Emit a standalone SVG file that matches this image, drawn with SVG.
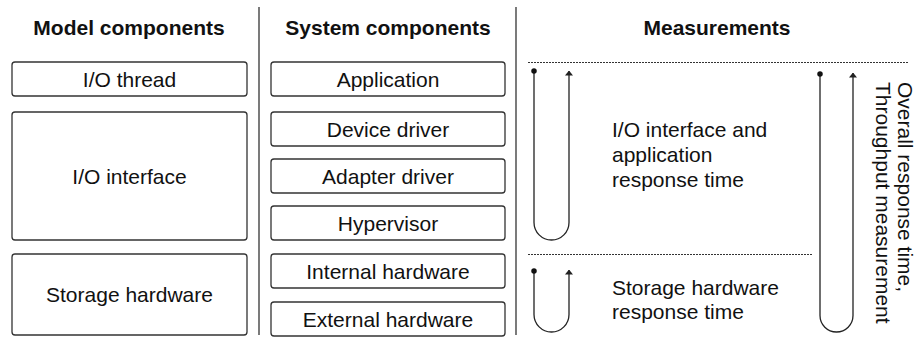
<svg xmlns="http://www.w3.org/2000/svg" width="921" height="340" viewBox="0 0 921 340">
  <style>
    .hdr { font-family: "Liberation Sans", Arial, sans-serif; font-weight: bold; font-size: 21px; fill: #111; text-anchor: middle; }
    .lbl { font-family: "Liberation Sans", Arial, sans-serif; font-size: 21px; fill: #111; text-anchor: middle; }
    .txt { font-family: "Liberation Sans", Arial, sans-serif; font-size: 21px; fill: #111; }
    .box { fill: #fff; stroke: #333; stroke-width: 1.3; }
    .sep { stroke: #333; stroke-width: 1.3; }
    .dot { stroke: #333; stroke-width: 1; stroke-dasharray: 2 1; fill: none; }
    .loop { fill: none; stroke: #222; stroke-width: 1.3; marker-start: url(#start-dot); marker-end: url(#arrow); }
  </style>
  <defs>
    <marker id="arrow" viewBox="0 0 10 10" refX="9" refY="5" markerWidth="5" markerHeight="8" markerUnits="userSpaceOnUse" orient="auto" preserveAspectRatio="none">
      <path d="M0,0 L10,5 L0,10 z" fill="#222"/>
    </marker>
    <marker id="start-dot" viewBox="0 0 10 10" refX="5" refY="5" markerWidth="5.5" markerHeight="5.5" markerUnits="userSpaceOnUse" orient="auto">
      <circle cx="5" cy="5" r="5" fill="#111"/>
    </marker>
  </defs>

  <!-- column headers -->
  <text class="hdr" x="129" y="35">Model components</text>
  <text class="hdr" x="388" y="35">System components</text>
  <text class="hdr" x="717" y="35">Measurements</text>

  <!-- column separators -->
  <line class="sep" x1="259" y1="7" x2="259" y2="335"/>
  <line class="sep" x1="516" y1="7" x2="516" y2="335"/>

  <!-- model components -->
  <g id="io-thread">
    <rect class="box" x="12" y="62" width="235" height="34" rx="3"/>
    <text class="lbl" x="129.5" y="86.5">I/O thread</text>
  </g>
  <g id="io-interface">
    <rect class="box" x="12" y="112" width="235" height="128" rx="3"/>
    <text class="lbl" x="129.5" y="183.5">I/O interface</text>
  </g>
  <g id="storage-hardware">
    <rect class="box" x="12" y="254" width="235" height="81" rx="3"/>
    <text class="lbl" x="129.5" y="302">Storage hardware</text>
  </g>

  <!-- system components -->
  <g id="application">
    <rect class="box" x="271" y="62" width="234" height="34" rx="3"/>
    <text class="lbl" x="388" y="86.5">Application</text>
  </g>
  <g id="device-driver">
    <rect class="box" x="271" y="112" width="234" height="34" rx="3"/>
    <text class="lbl" x="388" y="136.5">Device driver</text>
  </g>
  <g id="adapter-driver">
    <rect class="box" x="271" y="159" width="234" height="34" rx="3"/>
    <text class="lbl" x="388" y="183.5">Adapter driver</text>
  </g>
  <g id="hypervisor">
    <rect class="box" x="271" y="206" width="234" height="34" rx="3"/>
    <text class="lbl" x="388" y="230.5">Hypervisor</text>
  </g>
  <g id="internal-hardware">
    <rect class="box" x="271" y="254" width="234" height="34" rx="3"/>
    <text class="lbl" x="388" y="278.5">Internal hardware</text>
  </g>
  <g id="external-hardware">
    <rect class="box" x="271" y="302" width="234" height="34" rx="3"/>
    <text class="lbl" x="388" y="326.5">External hardware</text>
  </g>

  <!-- measurement ranges -->
  <line class="dot" x1="528" y1="62.5" x2="908" y2="62.5"/>
  <line class="dot" x1="528" y1="254.5" x2="812" y2="254.5"/>

  <g id="connectors">
    <path id="io-app-loop" class="loop" d="M534,71 L534,222.5 A17.5,17.5 0 0 0 569,222.5 L569,71"/>
    <path id="storage-loop" class="loop" d="M534,271 L534,314.5 A17.5,17.5 0 0 0 569,314.5 L569,270"/>
    <path id="overall-loop" class="loop" d="M820,74 L820,315.5 A16.5,16.5 0 0 0 853,315.5 L853,73"/>
  </g>

  <g id="io-app-label">
    <text class="txt" x="612" y="137">I/O interface and</text>
    <text class="txt" x="612" y="162">application</text>
    <text class="txt" x="612" y="187">response time</text>
  </g>
  <g id="storage-label">
    <text class="txt" x="612" y="295">Storage hardware</text>
    <text class="txt" x="612" y="319">response time</text>
  </g>
  <g id="overall-label">
    <text class="txt" transform="translate(898,82) rotate(90)">Overall response time,</text>
    <text class="txt" transform="translate(876,82) rotate(90)">Throughput measurement</text>
  </g>
</svg>
